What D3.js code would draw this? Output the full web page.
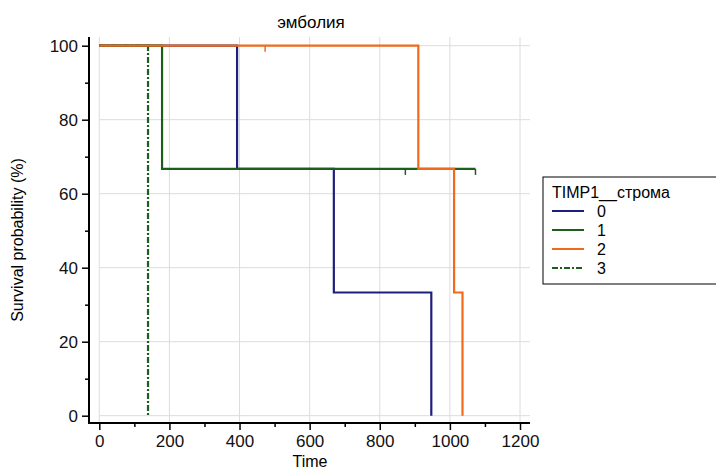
<!DOCTYPE html>
<html>
<head>
<meta charset="utf-8">
<script src="https://cdn.jsdelivr.net/npm/d3@7"></script>
<style>
  body { margin: 0; background: #fff; }
  svg { font-family: "Liberation Sans", Arial, sans-serif; }
</style>
</head>
<body>
<svg id="chart" width="716" height="469"></svg>
<script>
// survival steps: [time, survival %]
const groupNames = ['0', '1', '2', '3'];
const group0 = [[0, 100], [393, 100], [393, 66.7], [669, 66.7], [669, 33.3], [947, 33.3], [947, 0]];
const group1 = [[0, 100], [179, 100], [179, 66.7], [1073, 66.7]];
const group2 = [[0, 100], [910, 100], [910, 66.7], [1012, 66.7], [1012, 33.3], [1036, 33.3], [1036, 0]];
const group3 = [[0, 100], [139, 100], [139, 0]];
const censor1 = [[873, 66.7], [1073, 66.7]];
const censor2 = [[473, 100]];
const xTicks = [0, 200, 400, 600, 800, 1000, 1200];
const yTicks = [0, 20, 40, 60, 80, 100];

const colors = ['#1f1f7c', '#1c5e1c', '#f06a1a', '#1c5e1c'];
const dashes = [null, null, null, '6,2,2,2'];

const svg = d3.select('#chart');
const x = d3.scaleLinear().domain([0, 1200]).range([99.3, 520]);
const y = d3.scaleLinear().domain([0, 100]).range([415.7, 45.7]);

// grid
const grid = svg.append('g').attr('stroke', '#dcdcdc').attr('stroke-width', 1);
grid.selectAll('line.v').data(xTicks).join('line')
  .attr('x1', (d) => x(d)).attr('x2', (d) => x(d))
  .attr('y1', 37).attr('y2', 423);
grid.selectAll('line.h').data(yTicks).join('line')
  .attr('x1', 99).attr('x2', 530)
  .attr('y1', (d) => y(d)).attr('y2', (d) => y(d));

// axes
const xAxis = d3.axisBottom(x).tickValues(xTicks).tickSize(7).tickPadding(5).tickFormat(d3.format('d'));
const xMinor = d3.axisBottom(x).tickValues(d3.range(100, 1200, 200)).tickSize(4).tickFormat('');
const yAxis = d3.axisLeft(y).tickValues(yTicks).tickSize(7).tickPadding(4).tickFormat(d3.format('d'));
const yMinor = d3.axisLeft(y).tickValues(d3.range(10, 100, 20)).tickSize(4).tickFormat('');

function styleAxis(g) {
  g.select('.domain').remove();
  g.selectAll('line').attr('stroke', '#000').attr('stroke-width', 1.5);
  g.selectAll('text').attr('fill', '#111').style('font-size', '17px');
}

svg.append('g').attr('transform', 'translate(0,423)').call(xAxis).call(styleAxis);
svg.append('g').attr('transform', 'translate(0,423)').call(xMinor).call(styleAxis);
svg.append('g').attr('transform', 'translate(89,0)').call(yAxis).call(styleAxis);
svg.append('g').attr('transform', 'translate(89,0)').call(yMinor).call(styleAxis);

svg.append('line').attr('x1', 89).attr('x2', 530).attr('y1', 423).attr('y2', 423)
  .attr('stroke', '#000').attr('stroke-width', 2);
svg.append('line').attr('x1', 89).attr('x2', 89).attr('y1', 37).attr('y2', 424)
  .attr('stroke', '#000').attr('stroke-width', 2);

// curves
const line = d3.line().x((d) => x(d[0])).y((d) => y(d[1]));
const groups = [group0, group1, group2, group3];
const order = [3, 0, 1, 2];
order.forEach((i) => {
  svg.append('path').datum(groups[i])
    .attr('d', line)
    .attr('fill', 'none')
    .attr('stroke', colors[i])
    .attr('stroke-width', 2.2)
    .attr('stroke-dasharray', dashes[i]);
});

// censor marks
[[censor1, colors[1]], [censor2, colors[2]]].forEach(([pts, c]) => {
  svg.selectAll(null).data(pts).join('line')
    .attr('x1', (d) => x(d[0])).attr('x2', (d) => x(d[0]))
    .attr('y1', (d) => y(d[1])).attr('y2', (d) => y(d[1]) + 6)
    .attr('stroke', c).attr('stroke-width', 1.5);
});

// titles
svg.append('text').attr('x', 311).attr('y', 28).attr('text-anchor', 'middle')
  .style('font-size', '17px').text('эмболия');
svg.append('text').attr('x', 310).attr('y', 467).attr('text-anchor', 'middle')
  .style('font-size', '16px').text('Time');
svg.append('text').attr('transform', 'translate(23,240)rotate(-90)').attr('text-anchor', 'middle')
  .style('font-size', '16px').text('Survival probability (%)');

// legend
const legend = svg.append('g').attr('transform', 'translate(543,177)');
legend.append('rect').attr('width', 190).attr('height', 107)
  .attr('fill', '#fff').attr('stroke', '#000').attr('stroke-width', 1);
legend.append('text').attr('x', 9).attr('y', 21).style('font-size', '16px').text('TIMP1__строма');
legend.selectAll('g.item').data(groupNames).join('g')
  .attr('transform', (d, i) => `translate(0,${34 + i * 19})`)
  .call((g) => {
    g.append('line').attr('x1', 9).attr('x2', 41).attr('y1', 0).attr('y2', 0)
      .attr('stroke', (d, i) => colors[i]).attr('stroke-width', 2)
      .attr('stroke-dasharray', (d, i) => dashes[i]);
    g.append('text').attr('x', 54).attr('y', 6).style('font-size', '16px').text((d) => d);
  });
</script>
</body>
</html>
